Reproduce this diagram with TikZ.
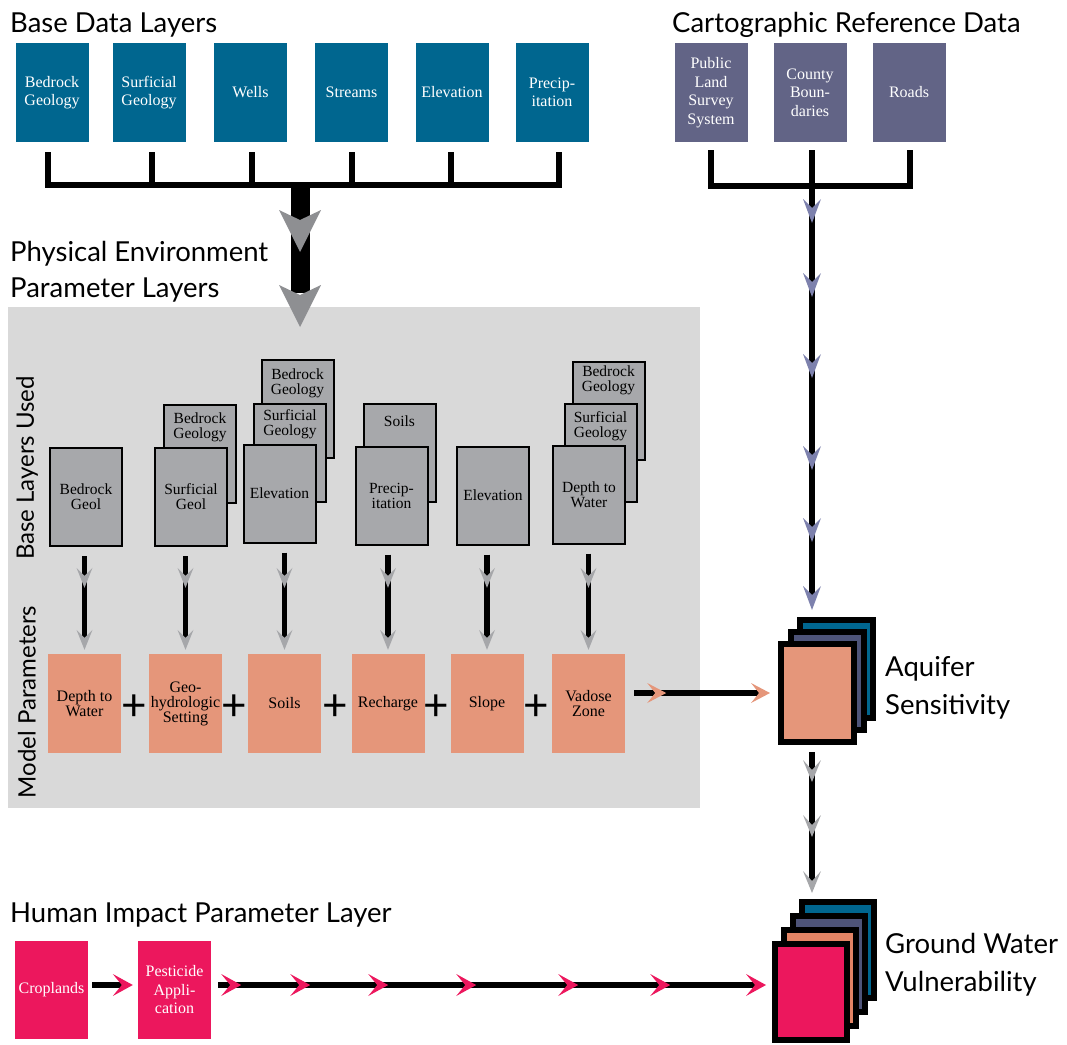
\documentclass[tikz,border=0pt]{standalone}
\usepackage{fontspec}
\setmainfont{Liberation Serif}
\newfontfamily\titlefont{Lato}
\usetikzlibrary{calc}
\definecolor{dblue}{HTML}{00668F}
\definecolor{slate}{HTML}{626486}
\definecolor{slatedark}{HTML}{4E5479}
\definecolor{slatechev}{HTML}{7D81AD}
\definecolor{porange}{HTML}{E5967A}
\definecolor{gworange}{HTML}{E38465}
\definecolor{magred}{HTML}{EC175D}
\definecolor{panelgray}{HTML}{D9D9D9}
\definecolor{boxgray}{HTML}{A7A8AB}
\definecolor{chevgray}{HTML}{8E8F92}
\definecolor{chevlight}{HTML}{A6A7AA}
\begin{document}
\begin{tikzpicture}[x=1pt,y=-1pt,
  title/.style={font=\titlefont\fontsize{27.5}{30}\selectfont, anchor=base west, inner sep=0pt},
  sidetitle/.style={font=\titlefont\fontsize{24}{26}\selectfont, rotate=90, inner sep=0pt},
  datbox/.style={minimum width=73pt, minimum height=99pt, inner sep=1pt, align=center,
    font=\fontsize{16}{18.5}\selectfont, text=white},
  bluebox/.style={datbox, fill=dblue},
  cartobox/.style={datbox, fill=slate},
  graybox/.style={draw=black, line width=2pt, fill=boxgray, minimum width=72pt,
    minimum height=98pt, inner sep=1pt, align=center, font=\fontsize{15.5}{15}\selectfont},
  backtxt/.style={align=center, inner sep=0pt, font=\fontsize{15.5}{15}\selectfont},
  pbox/.style={fill=porange, minimum width=73pt, minimum height=99pt, inner sep=1pt,
    align=center, font=\fontsize{16}{15}\selectfont},
  magbox/.style={fill=magred, minimum width=73pt, minimum height=98pt, inner sep=1pt,
    align=center, text=white, font=\fontsize{16}{18.5}\selectfont},
  stackbox/.style={draw=black, line width=6pt, minimum width=73pt, minimum height=98pt, inner sep=0pt},
  gwbox/.style={draw=black, line width=6pt, minimum width=72pt, minimum height=96pt, inner sep=0pt},
  plus/.style={font=\titlefont\fontsize{44}{44}\selectfont, inner sep=0pt},
  brk/.style={line width=6pt, black},
  conn/.style={line width=5.5pt, black},
  hconn/.style={line width=6.5pt, black},
  pics/chev/.style n args={4}{code={\fill[#4] (0pt,0pt) -- (-#1pt,#2pt) -- (-#3pt,0pt) -- (-#1pt,-#2pt) -- cycle;}}
]
\useasboundingbox (0,0) rectangle (1067,1044);

% ---------- panel ----------
\node[fill=panelgray, minimum width=692pt, minimum height=501pt, inner sep=0pt, anchor=north west] (panel) at (8,307) {};

% ---------- titles ----------
\node[title] (t1) at (10,32) {Base Data Layers};
\node[title] (t2) at (672,32) {Cartographic Reference Data};
\node[title] (t3) at (10,261) {Physical Environment};
\node[title] (t4) at (10,297) {Parameter Layers};
\node[title] (t5) at (10,922) {Human Impact Parameter Layer};
\node[sidetitle] (s1) at (27,468) {Base Layers Used};
\node[sidetitle] (s2) at (27,702) {Model Parameters};

% ---------- base data layers ----------
\node[bluebox] (b1) at (52,92.5) {Bedrock\\Geology};
\node[bluebox] (b2) at (149,92.5) {Surficial\\Geology};
\node[bluebox] (b3) at (250.5,92.5) {Wells};
\node[bluebox] (b4) at (351.5,92.5) {Streams};
\node[bluebox] (b5) at (452,92.5) {Elevation};
\node[bluebox] (b6) at (552,92.5) {Precip-\\itation};

\node[cartobox] (c1) at (711,92.5) {Public\\Land\\Survey\\System};
\node[cartobox] (c2) at (810,92.5) {County\\Boun-\\daries};
\node[cartobox] (c3) at (909,92.5) {Roads};

% ---------- brackets ----------
\coordinate (jl) at (0,185);
\foreach \b/\dx in {b1/-4,b2/3,b3/1,b4/0,b5/-1,b6/7}{
  \path ($(\b.south)+(\dx,10)$) coordinate (t\b);
  \draw[brk] (t\b) -- (t\b |- jl);
}
\draw[brk, line cap=rect] (tb1 |- jl) -- (tb6 |- jl);

\coordinate (jr) at (0,186);
\foreach \b/\dx in {c1/0,c2/2,c3/1}{
  \path ($(\b.south)+(\dx,8)$) coordinate (t\b);
  \draw[brk] (t\b) -- (t\b |- jr);
}
\draw[brk, line cap=rect] (tc1 |- jr) -- (tc3 |- jr);
\coordinate (rj) at (tc2 |- jr);

% ---------- big arrow into panel ----------
\coordinate (bj) at (300,185);
\draw[line width=19pt, black] (bj) -- ($(bj |- panel.north)+(0,-14)$);
\pic[rotate=-90] at ($(bj)+(0,67)$) {chev={42}{21}{32}{chevgray}};
\pic[rotate=-90] at ($(bj |- panel.north)+(0,20)$) {chev={42}{21}{32}{chevgray}};

% ---------- base layers used ----------
\node[graybox] (g1) at (86,497) {Bedrock\\Geol};

\node[graybox] (g2b) at (200,454) {};
\node[backtxt] (g2bt) at ($(g2b.north)+(0,23)$) {Bedrock\\Geology};
\node[graybox] (g2) at (191,497) {Surficial\\Geol};

\node[graybox] (g3c) at (297.5,408.5) {};
\node[backtxt] (g3ct) at ($(g3c.north)+(0,25)$) {Bedrock\\Geology};
\node[graybox] (g3b) at (290,453) {};
\node[backtxt] (g3bt) at ($(g3b.north)+(0,21)$) {Surficial\\Geology};
\node[graybox] (g3) at (279.5,493.5) {Elevation};

\node[graybox] (g4b) at (399.5,453) {};
\node[backtxt] (g4bt) at ($(g4b.north)+(0,18)$) {Soils};
\node[graybox] (g4) at (391.5,495.5) {Precip-\\itation};

\node[graybox] (g5) at (493,495.5) {Elevation};

\node[graybox] (g6c) at (608.5,410.5) {};
\node[backtxt] (g6ct) at ($(g6c.north)+(0,20)$) {Bedrock\\Geology};
\node[graybox] (g6b) at (600.5,452.5) {};
\node[backtxt] (g6bt) at ($(g6b.north)+(0,24)$) {Surficial\\Geology};
\node[graybox] (g6) at (589,494.5) {Depth to\\Water};

% ---------- model parameters ----------
\node[pbox] (p1) at (84.5,703.5) {Depth to\\Water};
\node[pbox] (p2) at (185.5,703.5) {Geo-\\hydrologic\\Setting};
\node[pbox] (p3) at (284.5,703.5) {Soils};
\node[pbox] (p4) at (388,703.5) {Recharge};
\node[pbox] (p5) at (487,703.5) {Slope};
\node[pbox] (p6) at (588.5,703.5) {Vadose\\Zone};

\foreach \a/\b [count=\k] in {p1/p2,p2/p3,p3/p4,p4/p5,p5/p6}
  \node[plus] (pl\k) at ($(\a.east)!0.5!(\b.west)+(-1,4)$) {+};

\foreach \i in {1,...,6}{
  \draw[conn] ($(p\i.north |- g\i.south)+(0,9)$) -- ($(p\i.north)+(0,-12)$);
  \pic[rotate=-90] at ($(p\i.north)+(0,-66)$) {chev={20}{8}{12}{chevlight}};
  \pic[rotate=-90] at ($(p\i.north)+(0,-4)$) {chev={20}{8}{12}{chevlight}};
}

% ---------- aquifer sensitivity ----------
\node[stackbox, fill=dblue] (aq3) at (836.5,669) {};
\node[stackbox, fill=slatedark] (aq2) at (827,681) {};
\node[stackbox, fill=porange] (aq1) at (817.5,693) {};
\node[title] (aql1) at (885,676) {Aquifer};
\node[title] (aql2) at (885,714) {Sensitivity};

% cartographic line
\draw[conn] (rj) -- ($(rj |- aq3.north)+(0,-17)$);
\foreach \d in {37,111,192,284,356}
  \pic[rotate=-90] at ($(rj)+(0,\d)$) {chev={24}{9}{15}{slatechev}};
\pic[rotate=-90] at ($(rj |- aq3.north)+(0,-7)$) {chev={24}{9}{15}{slatechev}};

% parameters to aquifer
\draw[conn] ($(p6.east |- aq1.west)+(9,0)$) -- ($(aq1.west)+(-18,0)$);
\pic at ($(p6.east |- aq1.west)+(41,0)$) {chev={19}{10}{11}{porange}};
\pic at ($(aq1.west)+(-8,0)$) {chev={19}{10}{11}{porange}};

% ---------- ground water vulnerability ----------
\node[gwbox, fill=dblue] (gw4) at (838,950) {};
\node[gwbox, fill=slatedark] (gw3) at (829,964) {};
\node[gwbox, fill=gworange] (gw2) at (820,978) {};
\node[gwbox, fill=magred] (gw1) at (811,992) {};
\node[title] (gwl1) at (885,953) {Ground Water};
\node[title] (gwl2) at (885,991) {Vulnerability};

\draw[conn] ($(rj |- aq1.south)+(0,7)$) -- ($(rj |- gw4.north)+(0,-14)$);
\pic[rotate=-90] at ($(rj |- aq1.south)+(0,37)$) {chev={22}{9}{12}{chevlight}};
\pic[rotate=-90] at ($(rj |- aq1.south)+(0,92)$) {chev={22}{9}{12}{chevlight}};
\pic[rotate=-90] at ($(rj |- gw4.north)+(0,-6)$) {chev={22}{9}{12}{chevlight}};

% ---------- human impact ----------
\node[magbox] (crop) at (51.5,990) {Croplands};
\node[magbox] (pest) at (174.5,990) {Pesticide\\Appli-\\cation};

\draw[hconn] ($(crop.east)+(4,-5)$) -- ($(pest.west)+(-14,-5)$);
\pic at ($(pest.west)+(-5,-5)$) {chev={20}{11}{11}{magred}};

\coordinate (hs) at ($(pest.east)+(7,-5)$);
\draw[hconn] (hs) -- ($(hs -| gw1.west)+(-17,0)$);
\foreach \d in {23,92,170,258,360,452}
  \pic at ($(hs)+(\d,0)$) {chev={20}{11}{11}{magred}};
\pic at ($(hs -| gw1.west)+(-6,0)$) {chev={20}{11}{11}{magred}};
\end{tikzpicture}
\end{document}
